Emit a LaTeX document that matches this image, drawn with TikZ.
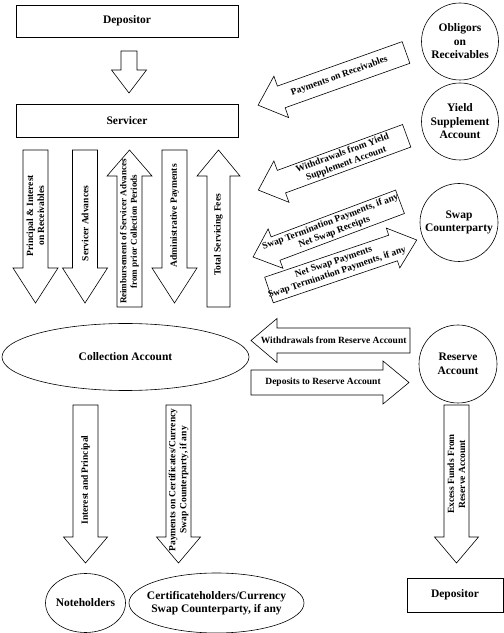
\documentclass[tikz,border=0pt]{standalone}
\usepackage{fontspec}
\setmainfont{Liberation Serif}
\usetikzlibrary{calc}
\tikzset{
  big/.style={font=\bfseries\fontsize{11.5}{13.5}\selectfont, align=center, inner sep=0pt},
  lbl/.style={font=\bfseries\fontsize{9.5}{11}\selectfont, align=center, inner sep=0pt},
  small/.style={font=\bfseries\fontsize{9}{10.5}\selectfont, align=center, inner sep=0pt},
  boxnode/.style={draw, big, line width=0.6pt},
  outline/.style={draw, line width=0.6pt},
  barr/.style={draw, fill=white, line width=0.6pt, line join=miter},
}
% #1 name, #2 tail point, #3 angle, #4 length, #5 shaft half width, #6 head half width, #7 head length
\newcommand\barrow[7]{%
  \begin{scope}[shift={#2}, rotate=#3]
    \draw[barr] (0,-#5) -- ({#4-#7},-#5) -- ({#4-#7},-#6) -- (#4,0) -- ({#4-#7},#6) -- ({#4-#7},#5) -- (0,#5) -- cycle;
    \coordinate (#1-tail) at (0,0);
    \coordinate (#1-tip) at (#4,0);
  \end{scope}}
\begin{document}
\begin{tikzpicture}[x=1pt,y=1pt]
\useasboundingbox (0,0) rectangle (504,633);
% boxes
\node[boxnode, minimum width=222pt, minimum height=32pt] (dep1) at (127,612) {Depositor};
\node[boxnode, minimum width=222pt, minimum height=33pt] (serv) at (127,512.5) {Servicer};
\node[boxnode, minimum width=96pt, minimum height=34pt] (dep2) at (455,38) {Depositor};
% circles
\node[big] (oblig) at (460,591.5) {Obligors\\on\\Receivables};
\draw[outline] (oblig.center) circle [radius=38.5];
\node[big] (yield) at (460,511.5) {Yield\\Supplement\\Account};
\draw[outline] (yield.center) circle [radius=38.5];
\node[big] (swap) at (459,410.5) {Swap\\Counterparty};
\draw[outline] (swap.center) circle [radius=39];
\node[big] (res) at (458,269) {Reserve\\Account};
\draw[outline] (res.center) circle [radius=39];
% ellipses
\node[big] (coll) at (125.5,276) {Collection Account};
\draw[outline] (coll.center) ellipse [x radius=123.5, y radius=33.5];
\node[big] (note) at (85.5,30) {Noteholders};
\draw[outline] (note.center) ellipse [x radius=40, y radius=29.5];
\node[big] (cert) at (216.5,30) {Certificateholders/Currency\\Swap Counterparty, if any};
\draw[outline] (cert.center) ellipse [x radius=87.5, y radius=30];
% block arrows
\barrow{dA}{(129,582)}{-90}{42}{8}{17.5}{23}
\barrow{a1}{(35.5,483)}{-90}{153}{12.5}{22.5}{35}
\barrow{a2}{(85,483)}{-90}{153}{12.5}{22.5}{35}
\barrow{a3}{(129.5,326)}{90}{157}{12.5}{22.5}{26}
\barrow{a4}{(174.5,483)}{-90}{153}{12.5}{22.5}{35}
\barrow{a5}{(218.5,326)}{90}{157}{11.5}{21.5}{26}
\barrow{pay}{(406,580.5)}{199.6}{157}{11.5}{22}{24.6}
\barrow{wys}{(406.7,497.2)}{200.1}{158}{12}{22}{24.6}
\barrow{swr}{(269,343)}{18.7}{156}{13.5}{21}{25}
\barrow{swl}{(400,431.2)}{200.6}{157}{12.5}{21}{24}
\barrow{wra}{(410,292.5)}{180}{159}{12.5}{22}{26}
\barrow{dra}{(251,250.5)}{0}{158}{12.5}{21.5}{26}
\barrow{b1}{(85.5,228)}{-90}{158}{12.5}{22}{26}
\barrow{b2}{(178.5,228)}{-90}{158}{12.5}{22}{26}
\barrow{b3}{(456.5,228)}{-90}{158}{12.5}{22}{26}
% arrow labels
\node[lbl, rotate=90] (a1t) at ($(a1-tail)!0.43!(a1-tip)$) {Principal \& Interest\\on Receivables};
\node[lbl, rotate=90] (a2t) at ($(a2-tail)!0.48!(a2-tip)$) {Servicer Advances};
\node[small, rotate=90] (a3t) at ($(a3-tail)!0.48!(a3-tip)$) {Reimbursement of Servicer Advances\\from prior Collection Periods};
\node[lbl, rotate=90] (a4t) at ($(a4-tail)!0.43!(a4-tip)$) {Administrative Payments};
\node[lbl, rotate=90] (a5t) at ($(a5-tail)!0.46!(a5-tip)$) {Total Servicing Fees};
\node[lbl, rotate=19.6] (payt) at ($(pay-tail)!0.45!(pay-tip)$) {Payments on Receivables};
\node[lbl, rotate=20.1] (wyst) at ($(wys-tail)!0.42!(wys-tip)$) {Withdrawals from Yield\\Supplement Account};
\node[lbl, rotate=20.6] (swlt) at ($(swl-tail)!0.46!(swl-tip)$) {Swap Termination Payments, if any\\Net Swap Receipts};
\node[lbl, rotate=18.7] (swrt) at ($(swr-tail)!0.45!(swr-tip)$) {Net Swap Payments\\Swap Termination Payments, if any};
\node[lbl] (wrat) at ($(wra-tail)!0.48!(wra-tip)$) {Withdrawals from Reserve Account};
\node[lbl] (drat) at ($(dra-tail)!0.456!(dra-tip)$) {Deposits to Reserve Account};
\node[lbl, rotate=90] (b1t) at ($(b1-tail)!0.475!(b1-tip)$) {Interest and Principal};
\node[lbl, rotate=90] (b2t) at ($(b2-tail)!0.475!(b2-tip)$) {Payments on Certificates/Currency\\Swap Counterparty, if any};
\node[lbl, rotate=90] (b3t) at ($(b3-tail)!0.437!(b3-tip)$) {Excess Funds From\\Reserve Account};
\end{tikzpicture}
\end{document}
